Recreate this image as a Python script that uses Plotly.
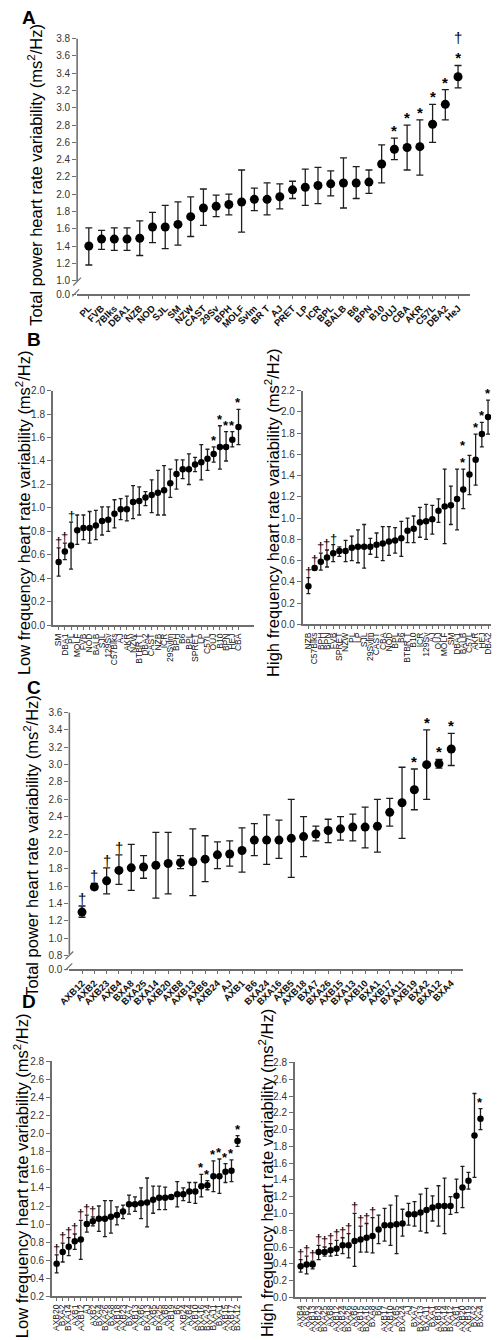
import plotly.graph_objects as go

W, H = 498, 1340
FONT = "Arial, Liberation Sans, sans-serif"

# ---------------- Panel A : total power, inbred strains ----------------
A_strains = ["PL", "FVB", "7Blks", "DBA1", "NZB", "NOD", "SJL", "SM", "NZW", "CAST",
             "29Sv", "BPH", "MOLF", "Svlm", "BR T", "AJ", "PRET", "LP", "ICR", "BPL",
             "BALB", "B6", "BPN", "B10", "OUJ", "CBA", "AKR", "C57L", "DBA2", "HeJ"]
A_mean = [1.40, 1.48, 1.48, 1.48, 1.49, 1.62, 1.62, 1.65, 1.74, 1.84,
          1.86, 1.88, 1.91, 1.94, 1.94, 1.97, 2.05, 2.08, 2.10, 2.12,
          2.13, 2.13, 2.14, 2.35, 2.52, 2.54, 2.55, 2.81, 3.04, 3.36]
A_upper = [1.61, 1.58, 1.61, 1.61, 1.69, 1.79, 1.87, 1.91, 1.97, 2.06,
           1.99, 2.00, 2.28, 2.07, 2.13, 2.12, 2.15, 2.29, 2.31, 2.27,
           2.42, 2.32, 2.28, 2.57, 2.65, 2.80, 2.86, 3.04, 3.21, 3.49]
A_lower = [1.18, 1.36, 1.35, 1.35, 1.29, 1.44, 1.37, 1.41, 1.51, 1.64,
           1.74, 1.76, 1.56, 1.81, 1.76, 1.83, 1.95, 1.87, 1.89, 1.98,
           1.84, 1.95, 2.01, 2.13, 2.40, 2.28, 2.22, 2.60, 2.86, 3.23]
A_marks = [""] * 24 + ["*", "*", "*", "*", "*", "†<br>*"]

# ---------------- Panel B left : low frequency, inbred ----------------
BL_strains = ["SM", "DBA1", "PL", "MOLF", "FVB", "NOD", "BALB", "SJL", "129Sv", "C57Blks",
              "AJ", "AKR", "NZW", "BTBR T", "DBA2", "CAST", "NZB", "ICR", "29Svlm", "BPH",
              "B6", "BPL", "SPRET", "LP", "C57L", "OUJ", "B10", "BPN", "HEJ", "CBA"]
BL_mean = [0.54, 0.63, 0.68, 0.81, 0.83, 0.83, 0.85, 0.89, 0.90, 0.95,
           0.99, 0.99, 1.05, 1.06, 1.09, 1.11, 1.13, 1.15, 1.21, 1.29,
           1.33, 1.33, 1.37, 1.39, 1.42, 1.46, 1.52, 1.52, 1.58, 1.69]
BL_upper = [0.66, 0.70, 0.88, 0.94, 0.94, 0.97, 0.98, 1.01, 1.01, 1.07,
            1.08, 1.10, 1.19, 1.18, 1.14, 1.24, 1.32, 1.36, 1.33, 1.41,
            1.41, 1.46, 1.43, 1.54, 1.50, 1.52, 1.70, 1.65, 1.65, 1.84]
BL_lower = [0.42, 0.56, 0.48, 0.69, 0.73, 0.70, 0.73, 0.77, 0.80, 0.83,
            0.90, 0.89, 0.91, 0.94, 1.02, 0.96, 0.94, 0.94, 1.09, 1.16,
            1.25, 1.20, 1.31, 1.24, 1.32, 1.39, 1.33, 1.40, 1.52, 1.54]
BL_marks = ["†", "†", "†"] + [""] * 22 + ["*", "*", "*", "*", "*"]

# ---------------- Panel B right : high frequency, inbred ----------------
BR_strains = ["NZB", "C57Blks", "BPH", "BPN", "FVB", "SPRET", "NZW", "PL", "LP", "SJL",
              "29Svlm", "CAST", "CBA", "NOD", "BPL", "B6", "BTBR T", "B10", "ICR", "129Sv",
              "AJ", "OUJ", "MOLF", "SM", "DBA1", "BALB", "C57L", "AKR", "HEJ", "DBA2"]
BR_mean = [0.36, 0.53, 0.59, 0.63, 0.67, 0.69, 0.69, 0.72, 0.73, 0.73,
           0.73, 0.75, 0.76, 0.78, 0.79, 0.81, 0.88, 0.90, 0.96, 0.97,
           0.99, 1.07, 1.11, 1.12, 1.18, 1.27, 1.41, 1.55, 1.79, 1.95]
BR_upper = [0.44, 0.55, 0.67, 0.70, 0.75, 0.73, 0.79, 0.83, 0.89, 0.94,
            0.81, 0.86, 0.92, 0.92, 0.91, 0.97, 1.00, 1.02, 1.10, 1.13,
            1.12, 1.18, 1.46, 1.30, 1.46, 1.46, 1.59, 1.79, 1.90, 2.11]
BR_lower = [0.29, 0.51, 0.51, 0.54, 0.59, 0.64, 0.59, 0.60, 0.58, 0.53,
            0.66, 0.63, 0.60, 0.65, 0.67, 0.64, 0.77, 0.77, 0.82, 0.80,
            0.85, 0.96, 0.76, 0.94, 0.89, 1.09, 1.22, 1.31, 1.67, 1.79]
BR_marks = ["†"] * 5 + [""] * 20 + ["*<br>*", "", "*", "*", "*"]

# ---------------- Panel C : total power, recombinant inbred ----------------
C_strains = ["AXB12", "AXB2", "AXB23", "AXB4", "BXA8", "BXA25", "BXA14", "AXB20", "AXB8", "AXB13",
             "AXB6", "AXB24", "AJ", "AXB1", "B6", "BXA24", "BXA16", "AXB5", "AXB18", "BXA7",
             "BXA26", "AXB15", "BXA13", "AXB10", "BXA1", "AXB17", "BXA11", "AXB19", "BXA2", "BXA12",
             "BXA4"]
C_mean = [1.30, 1.59, 1.66, 1.78, 1.81, 1.82, 1.84, 1.86, 1.87, 1.88,
          1.91, 1.96, 1.97, 2.01, 2.13, 2.13, 2.13, 2.15, 2.17, 2.20,
          2.24, 2.26, 2.28, 2.28, 2.29, 2.45, 2.56, 2.71, 3.00, 3.01,
          3.18]
C_upper = [1.37, 1.63, 1.81, 1.96, 2.08, 1.95, 2.22, 2.22, 1.95, 2.26,
           2.18, 2.11, 2.12, 2.27, 2.32, 2.42, 2.36, 2.60, 2.40, 2.29,
           2.37, 2.40, 2.43, 2.51, 2.60, 2.61, 2.97, 2.95, 3.40, 3.06,
           3.36]
C_lower = [1.24, 1.56, 1.51, 1.62, 1.55, 1.69, 1.46, 1.51, 1.80, 1.49,
           1.65, 1.80, 1.83, 1.76, 1.95, 1.85, 1.92, 1.70, 1.94, 2.12,
           2.10, 2.13, 2.12, 2.04, 1.99, 2.29, 2.15, 2.48, 2.60, 2.96,
           2.99]
C_marks = ["†"] * 4 + [""] * 23 + ["*"] * 4

# ---------------- Panel D left : low frequency, recombinant inbred ----------------
DL_strains = ["AXB20", "BXA2", "BXA14", "AXB1", "AXB12", "AJ", "AXB2", "BXA4", "BXA26", "BXA8",
              "AXB18", "AXB23", "BXA7", "AXB13", "AXB6", "BXA13", "AXB5", "BXA25", "AXB8", "AXB19",
              "B6", "AXB24", "AXB4", "AXB10", "BXA16", "BXA24", "BXA11", "BXA1", "AXB15", "AXB17",
              "BXA12"]
DL_mean = [0.56, 0.69, 0.75, 0.81, 0.83, 1.00, 1.03, 1.06, 1.06, 1.08,
           1.10, 1.14, 1.22, 1.22, 1.23, 1.24, 1.27, 1.29, 1.29, 1.30,
           1.33, 1.33, 1.36, 1.36, 1.42, 1.43, 1.53, 1.53, 1.58, 1.59,
           1.92]
DL_upper = [0.66, 0.79, 0.85, 0.89, 1.04, 1.10, 1.08, 1.20, 1.26, 1.26,
            1.19, 1.21, 1.32, 1.30, 1.40, 1.51, 1.42, 1.42, 1.41, 1.31,
            1.47, 1.40, 1.46, 1.46, 1.55, 1.48, 1.70, 1.72, 1.67, 1.71,
            1.98]
DL_lower = [0.46, 0.58, 0.65, 0.72, 0.61, 0.91, 0.98, 0.92, 0.86, 0.90,
            0.99, 1.06, 1.11, 1.14, 1.06, 0.97, 1.12, 1.16, 1.16, 1.29,
            1.19, 1.26, 1.24, 1.23, 1.30, 1.38, 1.36, 1.34, 1.46, 1.47,
            1.86]
DL_marks = ["†"] * 7 + [""] * 17 + ["*"] * 7

# ---------------- Panel D right : high frequency, recombinant inbred ----------------
DR_strains = ["AXB4", "AXB2", "AXB13", "AXB23", "BXA25", "AXB8", "AXB12", "AXB24", "BXA26", "AXB6",
              "AXB15", "BXA16", "BXA8", "B6", "AXB17", "AXB10", "AXB5", "BXA24", "AJ", "BXA7",
              "BXA13", "BXA11", "BXA1", "AXB18", "BXA14", "BXA12", "AXB1", "AXB20", "AXB19", "BXA2",
              "BXA4"]
DR_mean = [0.37, 0.39, 0.39, 0.54, 0.54, 0.56, 0.58, 0.62, 0.62, 0.67,
           0.69, 0.71, 0.73, 0.81, 0.86, 0.86, 0.87, 0.88, 0.99, 0.99,
           1.01, 1.04, 1.07, 1.09, 1.09, 1.09, 1.21, 1.31, 1.39, 1.93,
           2.13]
DR_upper = [0.45, 0.49, 0.43, 0.62, 0.60, 0.64, 0.68, 0.71, 0.76, 1.00,
            0.85, 0.88, 0.95, 0.98, 1.06, 1.10, 1.21, 1.05, 1.12, 1.14,
            1.23, 1.30, 1.21, 1.33, 1.42, 1.20, 1.41, 1.56, 1.49, 2.43,
            2.25]
DR_lower = [0.30, 0.28, 0.34, 0.45, 0.49, 0.49, 0.50, 0.52, 0.47, 0.37,
            0.54, 0.54, 0.53, 0.64, 0.67, 0.62, 0.52, 0.73, 0.86, 0.85,
            0.79, 0.77, 0.91, 0.85, 0.76, 0.99, 1.01, 1.07, 1.29, 1.43,
            2.00]
DR_marks = ["†"] * 13 + [""] * 17 + ["*"]


# ---------------- helpers ----------------
def px(x, y):
    return x / W, 1 - y / H


def xdom(a, b):
    return [a / W, b / W]


def ydom(bottom, top):
    return [1 - bottom / H, 1 - top / H]


fig = go.Figure()

AXC = "#6e6e6e"
TICKC = "#333333"


def add_panel(xa, ya, cats, mean, upper, lower, marks, msize, capw, mfont, shift):
    fig.add_trace(go.Scatter(
        x=cats, y=mean, xaxis=xa, yaxis=ya, mode="markers",
        marker=dict(color="black", size=msize),
        error_y=dict(type="data", symmetric=False,
                     array=[u - m for u, m in zip(upper, mean)],
                     arrayminus=[m - l for m, l in zip(mean, lower)],
                     color="#1e1e1e", thickness=1.3, width=capw),
        showlegend=False, hoverinfo="skip"))
    for c, u, mk in zip(cats, upper, marks):
        if mk:
            txt = mk.replace("*", "<b>*</b>")
            fig.add_annotation(x=c, y=u, xref=xa, yref=ya, text=txt, showarrow=False,
                               yanchor="bottom", yshift=shift,
                               font=dict(family=FONT, size=mfont, color="black"))


add_panel("x", "y", A_strains, A_mean, A_upper, A_lower, A_marks, 9, 3.5, 15, -3)
add_panel("x2", "y2", BL_strains, BL_mean, BL_upper, BL_lower, BL_marks, 6.5, 2, 13, -3)
add_panel("x3", "y3", BR_strains, BR_mean, BR_upper, BR_lower, BR_marks, 6.5, 2, 13, -3)
add_panel("x4", "y4", C_strains, C_mean, C_upper, C_lower, C_marks, 9, 3.5, 15, -3)
add_panel("x5", "y5", DL_strains, DL_mean, DL_upper, DL_lower, DL_marks, 6.5, 2, 13, -3)
add_panel("x6", "y6", DR_strains, DR_mean, DR_upper, DR_lower, DR_marks, 6.5, 2, 13, -3)


def xcfg(domain, rng, anchor, angle, size, bold, cats):
    return dict(domain=domain, range=rng, anchor=anchor, type="category",
                showline=True, linecolor=AXC, linewidth=1.6,
                ticks="outside", ticklen=3, tickcolor=AXC, tickwidth=1,
                tickmode="array", tickvals=cats, ticktext=cats,
                tickangle=angle,
                tickfont=dict(family=FONT, size=size, color="#111",
                              weight=("bold" if bold else "normal")),
                showgrid=False, zeroline=False, fixedrange=True)


def ycfg(domain, rng, anchor, showline=True, tickvals=None, ticktext=None):
    d = dict(domain=domain, range=rng, anchor=anchor,
             showline=showline, linecolor=AXC, linewidth=1.6,
             ticks="outside", ticklen=4, tickcolor=AXC, tickwidth=1,
             tickfont=dict(family=FONT, size=10, color=TICKC),
             showgrid=False, zeroline=False, fixedrange=True)
    if tickvals is not None:
        d.update(tickmode="array", tickvals=tickvals, ticktext=ticktext)
    else:
        d.update(dtick=0.2, tickformat=".1f")
    return d


# broken-axis tick positions
A_tv = [0.84] + [round(1.0 + 0.2 * i, 1) for i in range(15)]
A_tt = ["0.0"] + ["%.1f" % v for v in A_tv[1:]]
C_tv = [0.64, 0.8] + [round(1.0 + 0.2 * i, 1) for i in range(14)]
C_tt = ["0.0", "0.8"] + ["%.1f" % v for v in C_tv[2:]]

fig.update_layout(
    width=W, height=H, margin=dict(l=0, r=0, t=0, b=0), autosize=False,
    paper_bgcolor="white", plot_bgcolor="white",
    font=dict(family=FONT),
    xaxis=xcfg(xdom(67, 471), [-0.92, 29.92], "y", -45, 9.5, True, A_strains),
    yaxis=ycfg(ydom(291, 33), [0.84, 3.8], "x", False, A_tv, A_tt),
    xaxis2=xcfg(xdom(42, 249), [-0.94, 31.5], "y2", -90, 8.5, False, BL_strains),
    yaxis2=ycfg(ydom(625, 388), [0, 2.0], "x2"),
    xaxis3=xcfg(xdom(299, 493), [-0.94, 29.5], "y3", -90, 8.5, False, BR_strains),
    yaxis3=ycfg(ydom(624, 388), [0, 2.2], "x3"),
    xaxis4=xcfg(xdom(59, 464), [-1.03, 30.95], "y4", -45, 9.5, True, C_strains),
    yaxis4=ycfg(ydom(972, 713), [0.64, 3.6], "x4", False, C_tv, C_tt),
    xaxis5=xcfg(xdom(41, 237), [-0.8, 30.8], "y5", -90, 8.5, False, DL_strains),
    yaxis5=ycfg(ydom(1302, 1065), [0.2, 2.8], "x5"),
    xaxis6=xcfg(xdom(291, 488), [-0.97, 30.97], "y6", -90, 8.5, False, DR_strains),
    yaxis6=ycfg(ydom(1303, 1066), [0, 2.8], "x6"),
)

# broken y axis lines (A and C)
shapes = []


def seg(x0, y0, x1, y1, w=1.6):
    a = px(x0, y0)
    b = px(x1, y1)
    shapes.append(dict(type="line", xref="paper", yref="paper",
                       x0=a[0], y0=a[1], x1=b[0], y1=b[1],
                       line=dict(color=AXC, width=w)))


# Panel A
seg(67, 33, 67, 278)
seg(63, 282, 71, 274, 1.2)
seg(62, 293, 69, 286, 1.2)
# Panel C
seg(59, 713, 59, 957)
seg(55, 962, 63, 954, 1.2)
seg(55, 973, 62, 966, 1.2)
fig.update_layout(shapes=shapes)

# axis titles and panel letters
ytitles = [
    (24, 170, "Total power heart rate variability (ms<sup>2</sup>/Hz)"),
    (12, 511, "Low frequency heart rate variability (ms<sup>2</sup>/Hz)"),
    (268, 511, "High frequency heart rate variability (ms<sup>2</sup>/Hz)"),
    (20, 847, "Total power heart rate variability (ms<sup>2</sup>/Hz)"),
    (10, 1180, "Low frequency heart rate variability (ms<sup>2</sup>/Hz)"),
    (262, 1178, "High frequency heart rate variability (ms<sup>2</sup>/Hz)"),
]
for x, y, t in ytitles:
    p = px(x, y)
    fig.add_annotation(x=p[0], y=p[1], xref="paper", yref="paper", text=t, textangle=-90,
                       showarrow=False, xanchor="center", yanchor="middle",
                       font=dict(family=FONT, size=16.5, color="black"))

for x, y, t in [(18, 12, "A"), (23, 337, "B"), (23, 688, "C"), (17, 1004, "D")]:
    p = px(x, y)
    fig.add_annotation(x=p[0], y=p[1], xref="paper", yref="paper", text="<b>%s</b>" % t,
                       showarrow=False, xanchor="center", yanchor="middle",
                       font=dict(family=FONT, size=19, color="black"))

fig.write_html("out.html", config={"displayModeBar": False},
               post_script="document.body.style.margin='0px';document.body.style.overflow='hidden';")
